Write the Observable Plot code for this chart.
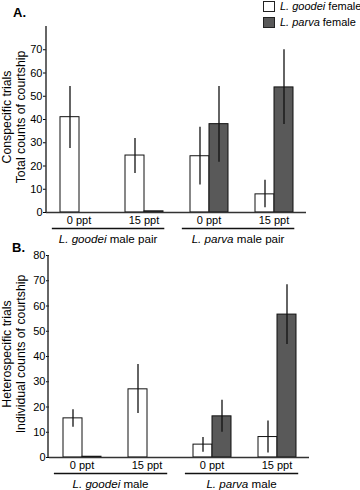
<!DOCTYPE html>
<html>
<head>
<meta charset="utf-8">
<script src="https://cdn.jsdelivr.net/npm/d3@7"></script>
<script src="https://cdn.jsdelivr.net/npm/@observablehq/plot@0.6"></script>
<style>
  html, body { margin: 0; padding: 0; background: #fff; }
  #root { position: relative; width: 360px; height: 490px; overflow: hidden; font-family: "Liberation Sans", Arial, sans-serif; color: #000; }
  .panel { position: absolute; left: 0; width: 360px; height: 245px; }
  .panel svg { overflow: visible; }
  .tag { position: absolute; font-weight: bold; font-size: 13px; }
  .legend { position: absolute; left: 263px; top: 0px; font-size: 11px; line-height: 12px; white-space: nowrap; }
  .legend .row { display: flex; align-items: center; height: 12px; margin-bottom: 4px; }
  .legend .sw { width: 12px; height: 11px; box-sizing: border-box; border: 1px solid #222; margin-right: 5px; }
</style>
</head>
<body>
<div id="root">
  <div class="panel" id="pa" style="top:0px"></div>
  <div class="panel" id="pb" style="top:245px"></div>
  <div class="tag" style="left:13px; top:5px;">A.</div>
  <div class="tag" style="left:12px; top:240px;">B.</div>
  <div class="legend" id="legend"></div>
</div>
<script>
// ---- categories ----
const speciesKeys = ["goodei", "parva"];
const speciesNames = ["L. goodei", "L. parva"];
const speciesColors = ["#ffffff", "#595959"];
const clusterKeys = ["g0", "g15", "p0", "p15"];
const salinityTicks = ["0 ppt", "15 ppt", "0 ppt", "15 ppt"];
const groupNames = ["L. goodei", "L. parva"];
const groupSuffixA = " male pair";
const groupSuffixB = " male";
const yTicksA = [0, 10, 20, 30, 40, 50, 60, 70];
const yTicksB = [0, 10, 20, 30, 40, 50, 60, 70, 80];

// ---- Panel A: conspecific trials ----
const A_goodei   = [41, 24.5, 24.2, 7.8];
const A_goodeiLo = [27.5, 16.8, 11.8, 2];
const A_goodeiHi = [54.2, 31.8, 36.7, 13.9];
const A_parva    = [null, 0.5, 38, 53.8];
const A_parvaLo  = [null, null, 21.6, 37.8];
const A_parvaHi  = [null, null, 54.2, 70];

// ---- Panel B: heterospecific trials ----
const B_goodei   = [15.5, 27, 5.1, 8.1];
const B_goodeiLo = [12, 17.4, 2.1, 1.8];
const B_goodeiHi = [18.9, 36.8, 7.9, 14.5];
const B_parva    = [0.3, null, 16.3, 56.6];
const B_parvaLo  = [null, null, 10, 44.8];
const B_parvaHi  = [null, null, 22.7, 68.4];

const FONT = "'Liberation Sans', Arial, sans-serif";

function rows(g, gLo, gHi, p, pLo, pHi) {
  const out = [];
  clusterKeys.forEach((c, i) => {
    out.push({cluster: c, species: speciesKeys[0], value: g[i], lo: gLo[i], hi: gHi[i]});
    out.push({cluster: c, species: speciesKeys[1], value: p[i], lo: pLo[i], hi: pHi[i]});
  });
  return out;
}

function panel(data, opts) {
  const bars = data.filter(d => d.value != null);
  const errs = data.filter(d => d.lo != null && d.hi != null);
  return Plot.plot({
    width: 360,
    height: 245,
    marginTop: opts.marginTop,
    marginBottom: 33,
    marginLeft: opts.marginLeft,
    marginRight: opts.marginRight,
    style: {fontFamily: FONT, fontSize: "11px", color: "#000", background: "transparent", overflow: "visible"},
    fx: {
      domain: clusterKeys,
      paddingInner: 0,
      paddingOuter: 0,
      label: null,
      axis: "bottom",
      tickSize: 0,
      tickPadding: 4,
      tickFormat: c => salinityTicks[clusterKeys.indexOf(c)]
    },
    x: {domain: speciesKeys, paddingInner: 0, paddingOuter: 0.69, axis: null},
    y: {domain: opts.yDomain, axis: null},
    color: {domain: speciesKeys, range: speciesColors},
    marks: [
      Plot.axisY({ticks: opts.yTicks, tickSize: 3, tickPadding: 1, label: null, fontSize: 11}),
      Plot.barY(bars, {fx: "cluster", x: "species", y: "value", fill: "species", stroke: "#111", strokeWidth: 1}),
      Plot.ruleX(errs, {fx: "cluster", x: "species", y1: "lo", y2: "hi", stroke: "#111", strokeWidth: 1.3}),
      Plot.ruleY([0], {stroke: "#333", strokeWidth: 1.5})
    ]
  });
}

function decorate(plot, suffix, yTitle1, yTitle2) {
  const svg = d3.select(plot);
  const fx = plot.scale("fx");
  const band = d3.scaleBand(fx.domain, fx.range).paddingInner(0).paddingOuter(0);
  const step = band.step();
  const y = plot.scale("y");
  const yScale = d3.scaleLinear(y.domain, y.range);
  const x0 = fx.range[0];
  // y axis line
  svg.append("line")
    .attr("x1", x0).attr("x2", x0)
    .attr("y1", yScale(y.domain[0])).attr("y2", yScale(y.domain[1]))
    .attr("stroke", "#333").attr("stroke-width", 1.5);
  // group underlines & labels
  const yLine = yScale(0) + 16.5;
  const yText = yScale(0) + 31;
  for (let gi = 0; gi < 2; gi++) {
    const a = band(clusterKeys[gi * 2]) + 0.09 * step;
    const b = band(clusterKeys[gi * 2 + 1]) + step - 0.18 * step;
    svg.append("line").attr("x1", a).attr("x2", b).attr("y1", yLine).attr("y2", yLine)
      .attr("stroke", "#111").attr("stroke-width", 1.6);
    const t = svg.append("text").attr("x", (a + b) / 2).attr("y", yText)
      .attr("text-anchor", "middle").attr("font-size", 11.6).attr("font-family", FONT).attr("fill", "#000");
    t.append("tspan").attr("font-style", "italic").text(groupNames[gi]);
    t.append("tspan").text(suffix);
  }
  // y-axis title (two lines)
  const cy = (yScale(y.domain[0]) + yScale(y.domain[1])) / 2 - 2;
  [[yTitle1, 11], [yTitle2, 24.5]].forEach(([s, xx]) => {
    svg.append("text").attr("transform", `translate(${xx},${cy}) rotate(-90)`)
      .attr("text-anchor", "middle").attr("font-size", 12.3).attr("font-family", FONT).attr("fill", "#000")
      .text(s);
  });
}

const plotA = panel(rows(A_goodei, A_goodeiLo, A_goodeiHi, A_parva, A_parvaLo, A_parvaHi),
  {marginTop: 26, marginLeft: 46, marginRight: 54, yDomain: [0, 80], yTicks: yTicksA});
document.getElementById("pa").appendChild(plotA);
decorate(plotA, groupSuffixA, "Conspecific trials", "Total counts of courtship");

const plotB = panel(rows(B_goodei, B_goodeiLo, B_goodeiHi, B_parva, B_parvaLo, B_parvaHi),
  {marginTop: 10, marginLeft: 48, marginRight: 50, yDomain: [0, 80], yTicks: yTicksB});
document.getElementById("pb").appendChild(plotB);
decorate(plotB, groupSuffixB, "Heterospecific trials", "Individual counts of courtship");

// legend
const leg = document.getElementById("legend");
speciesKeys.forEach((k, i) => {
  const row = document.createElement("div");
  row.className = "row";
  row.innerHTML = `<div class="sw" style="background:${speciesColors[i]}"></div><span><i>${speciesNames[i]}</i> female</span>`;
  leg.appendChild(row);
});
</script>
</body>
</html>
